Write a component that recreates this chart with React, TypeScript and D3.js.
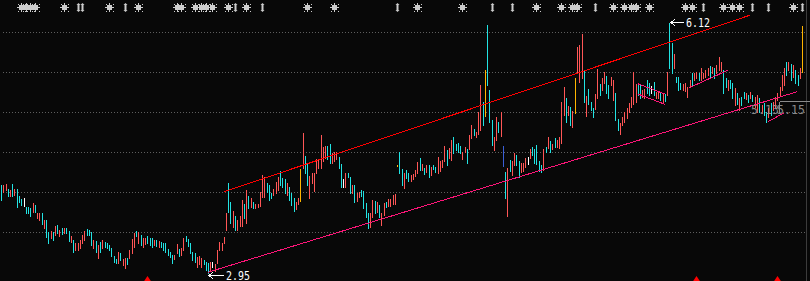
import React from 'react';
import * as d3 from 'd3';

// ---- data (prices) ----
const highs: number[] = [
  4.07,4.07,4.08,4.02,4.00,4.08,4.02,4.02,3.93,3.89,
  3.90,3.79,3.79,3.77,3.84,3.81,3.71,3.71,3.71,3.62,
  3.62,3.47,3.48,3.47,3.55,3.56,3.50,3.52,3.52,3.52,
  3.48,3.42,3.37,3.33,3.33,3.37,3.43,3.48,3.51,3.50,
  3.47,3.37,3.36,3.31,3.34,3.37,3.34,3.33,3.31,3.27,
  3.17,3.13,3.22,3.20,3.13,3.14,3.14,3.24,3.38,3.46,
  3.48,3.47,3.43,3.39,3.39,3.42,3.39,3.39,3.37,3.37,
  3.36,3.34,3.33,3.33,3.26,3.22,3.18,3.18,3.32,3.26,
  3.27,3.39,3.42,3.38,3.33,3.22,3.20,3.15,3.17,3.14,
  3.12,3.09,3.08,3.09,3.09,3.06,3.24,3.34,3.33,3.41,
  3.71,4.09,3.85,3.74,3.67,3.62,3.67,3.88,3.83,4.00,
  3.93,3.90,3.85,3.83,3.83,3.98,4.19,4.17,4.09,4.07,
  3.96,4.02,4.10,4.17,4.24,4.16,4.14,4.09,4.04,3.96,
  3.90,3.85,3.90,4.27,4.73,4.43,4.33,4.18,4.22,4.22,
  4.40,4.38,4.70,4.55,4.56,4.56,4.59,4.47,4.49,4.49,
  4.42,4.33,4.14,4.22,4.22,4.17,4.07,4.07,3.96,3.98,
  4.00,3.99,3.84,3.71,3.71,3.88,3.86,3.85,3.81,3.71,
  3.84,3.85,3.89,3.89,3.94,3.95,4.32,4.49,4.27,4.22,
  4.26,4.22,4.19,4.21,4.26,4.36,4.41,4.33,4.28,4.32,
  4.32,4.29,4.32,4.29,4.42,4.37,4.38,4.56,4.51,4.54,
  4.64,4.68,4.59,4.60,4.56,4.49,4.55,4.52,4.70,4.83,
  4.78,4.74,4.99,5.33,5.12,5.52,6.10,5.27,4.89,4.68,
  4.93,4.87,4.99,4.56,4.23,4.28,4.38,4.37,4.47,4.45,
  4.37,4.35,4.35,4.41,4.42,4.52,4.55,4.52,4.57,4.37,
  4.32,4.52,4.55,4.68,4.62,4.59,4.66,4.64,4.68,5.12,
  5.31,5.17,5.07,5.06,5.00,5.42,5.82,5.84,5.98,5.51,
  5.20,5.28,5.12,5.04,5.22,5.54,5.35,5.42,5.50,5.45,
  5.33,5.44,5.40,5.23,4.90,4.85,4.93,4.99,5.04,5.11,
  5.18,5.50,5.35,5.35,5.33,5.27,5.28,5.40,5.36,5.32,
  5.37,5.25,5.25,5.23,5.23,5.22,5.50,6.12,5.87,5.73,
  5.44,5.44,5.36,5.35,5.36,5.31,5.40,5.49,5.49,5.50,
  5.49,5.55,5.49,5.52,5.55,5.58,5.56,5.55,5.59,5.69,
  5.63,5.52,5.42,5.40,5.40,5.36,5.30,5.23,5.17,5.18,
  5.25,5.23,5.21,5.25,5.21,5.18,5.21,5.17,5.08,5.11,
  4.99,5.04,5.11,5.12,5.18,5.23,5.31,5.46,5.55,5.63,
  5.63,5.60,5.59,5.52,5.46,5.55,6.08,
];
const lows: number[] = [
  3.88,3.98,4.00,3.93,3.93,3.93,3.94,3.79,3.85,3.81,
  3.80,3.71,3.71,3.67,3.72,3.72,3.65,3.62,3.57,3.52,
  3.41,3.33,3.39,3.37,3.43,3.46,3.42,3.45,3.46,3.46,
  3.36,3.34,3.22,3.24,3.24,3.27,3.33,3.37,3.43,3.43,
  3.31,3.27,3.22,3.14,3.22,3.27,3.28,3.27,3.24,3.17,
  3.09,3.08,3.08,3.12,3.05,3.01,3.06,3.14,3.20,3.28,
  3.42,3.33,3.31,3.28,3.32,3.33,3.31,3.28,3.31,3.29,
  3.28,3.28,3.24,3.22,3.18,3.15,3.08,3.13,3.20,3.17,
  3.18,3.24,3.36,3.29,3.20,3.12,3.09,3.03,3.06,3.03,
  3.06,2.99,2.95,2.99,3.03,2.98,3.08,3.24,3.24,3.33,
  3.50,3.72,3.58,3.53,3.50,3.50,3.55,3.55,3.65,3.58,
  3.77,3.79,3.77,3.77,3.79,3.80,3.91,3.91,3.98,3.88,
  3.90,3.94,3.96,4.00,4.07,4.04,3.96,3.94,3.88,3.81,
  3.74,3.76,3.83,3.86,4.28,4.22,4.07,3.90,4.09,3.99,
  4.22,4.28,4.28,4.37,4.41,4.40,4.35,4.35,4.37,4.40,
  4.28,4.04,4.04,4.04,4.17,3.96,3.96,3.85,3.86,3.91,
  3.93,3.77,3.66,3.52,3.53,3.66,3.71,3.72,3.66,3.56,
  3.69,3.79,3.80,3.80,3.83,3.83,4.31,4.22,4.07,4.03,
  4.16,4.12,4.12,4.14,4.18,4.22,4.26,4.26,4.21,4.23,
  4.17,4.19,4.27,4.23,4.22,4.24,4.29,4.37,4.32,4.41,
  4.38,4.47,4.51,4.49,4.47,4.40,4.49,4.35,4.52,4.66,
  4.70,4.68,4.71,4.76,4.83,4.94,5.33,4.87,4.57,4.51,
  4.64,4.74,4.69,4.31,3.90,3.67,4.24,4.19,4.32,4.32,
  4.17,4.23,4.24,4.29,4.33,4.41,4.45,4.35,4.33,4.24,
  4.23,4.26,4.49,4.54,4.49,4.52,4.55,4.55,4.54,4.60,
  4.95,4.87,4.95,4.83,4.80,4.98,5.50,5.37,5.42,5.12,
  4.94,5.09,5.02,4.93,5.03,5.17,5.21,5.27,5.36,5.23,
  5.17,5.33,5.14,4.89,4.76,4.71,4.83,4.87,4.92,4.99,
  5.06,5.09,5.12,5.21,5.17,5.18,5.17,5.23,5.21,5.23,
  5.21,5.17,5.17,5.14,5.12,5.13,5.21,5.55,5.49,5.55,
  5.37,5.27,5.28,5.27,5.26,5.18,5.31,5.33,5.40,5.42,
  5.40,5.40,5.42,5.44,5.46,5.44,5.49,5.42,5.49,5.52,
  5.51,5.23,5.31,5.27,5.30,5.17,5.08,5.09,5.02,5.08,
  5.17,5.16,5.12,5.17,5.13,5.06,4.99,4.99,4.98,4.95,
  4.87,4.93,4.95,5.02,5.04,5.14,5.21,5.27,5.33,5.46,
  5.52,5.40,5.44,5.36,5.33,5.42,5.50,
];
// u = up, d = down, f = flat, l = limit move, x = ex-right day
const moveGroups: string[] = [
  'duudududdd', 'fddduduudu', 'ddudududud', 'duduuuuudd', 'dudududddd',
  'dduduuduuu', 'duduudddud', 'udddddduud', 'uuddddduuu', 'dddufuuuuu',
  'udduduuudu', 'duduuuuudd', 'duuudddudd', 'duuludduuu', 'uuuuudduuu',
  'ddfudduduu', 'dddduududu', 'uduuuulddu', 'dduuuududu', 'dudduuuudu',
  'udddduuduu', 'duuudldddu', 'uduxduduud', 'duuufudddd', 'dudududuuu',
  'ududuluuud', 'uddduuduud', 'duudduuuuu', 'uuudduuddf', 'duudududdu',
  'ddduuuuduu', 'duuuududuu', 'udduddudud', 'dududuudud', 'duduuuuuud',
  'ududdul',
];
const moves = moveGroups.join('').split('');

const gridLevels = [6.01, 5.50, 4.99, 4.48, 3.98, 3.47];
const channelUpper: [number, number][] = [[99, 3.98], [333, 6.22]];
const channelLower: [number, number][] = [[92, 2.96], [354, 5.25]];
const minorLines: [number, number][][] = [
  [[283, 5.35], [295, 5.22]],
  [[283, 5.22], [295, 5.09]],
  [[306, 5.30], [323, 5.52]],
  [[341, 4.87], [348, 4.98]],
];
const sunSignals = [9, 11, 13, 15, 28, 48, 61, 78, 80, 86, 89, 91, 94, 101, 109, 136, 148, 185, 205, 238, 249, 254, 256, 272, 277, 280, 282, 288, 304, 307, 321, 325, 328, 352];
const arrowSignals = [34, 36, 55, 104, 116, 176, 218, 227, 264, 312, 334, 341, 356];
const buySignals = [65, 309, 345];
const highMark = { index: 297, label: '6.12' };
const lowMark = { index: 92, label: '2.95' };
const priceTags = ['5.13', '5.15'];
const tagLevel = 5.13;

const COLORS: Record<string, string> = {
  u: '#ff5656', d: '#22e3e3', f: '#ffffff', l: '#ffb400', x: '#3a5fd8',
};

export default function App() {
  const W = 810, H = 281;
  const N = highs.length;
  const x = d3.scaleLinear().domain([0, N - 1]).range([1, 802]);
  const y = d3.scaleLinear().domain([2.95, 6.12]).range([273, 23]);
  const px = (i: number) => Math.round(x(i));
  const line = d3.line<[number, number]>().x(d => x(d[0])).y(d => y(d[1]));

  const sun = (cx: number, cy: number, k: number) => (
    <g key={'s' + k} fill="#cccccc" stroke="#cccccc" shapeRendering="crispEdges">
      <rect x={cx - 2.5} y={cy - 2.5} width={5} height={5} stroke="none" />
      <line x1={cx - 4.5} x2={cx + 4.5} y1={cy} y2={cy} strokeWidth={1} />
      <line x1={cx} x2={cx} y1={cy - 4.5} y2={cy + 4.5} strokeWidth={1} />
      <rect x={cx - 4} y={cy - 4} width={1} height={1} stroke="none" />
      <rect x={cx + 3} y={cy - 4} width={1} height={1} stroke="none" />
      <rect x={cx - 4} y={cy + 3} width={1} height={1} stroke="none" />
      <rect x={cx + 3} y={cy + 3} width={1} height={1} stroke="none" />
    </g>
  );
  const arrow = (cx: number, cy: number, k: number) => (
    <polygon key={'a' + k} fill="#cccccc"
      points={[
        [cx, cy - 4.5], [cx + 2, cy - 2.5], [cx + 1, cy - 2.5], [cx + 1, cy + 2.5], [cx + 2, cy + 2.5],
        [cx, cy + 4.5], [cx - 2, cy + 2.5], [cx - 1, cy + 2.5], [cx - 1, cy - 2.5], [cx - 2, cy - 2.5],
      ].map(p => p.join(',')).join(' ')} />
  );

  const hx = px(highMark.index) + 2, hy = Math.round(y(highs[highMark.index])) - 1;
  const lx = px(lowMark.index) + 1, ly = Math.round(y(lows[lowMark.index])) + 2;
  const tagY = Math.round(y(tagLevel)) + 0.5;

  return (
    <svg width={W} height={H} style={{ position: 'absolute', left: 0, top: 0, display: 'block', background: '#080808' }}>
      <rect width={W} height={H} fill="#080808" />
      {gridLevels.map((g, k) => (
        <line key={k} x1={3} x2={806} y1={Math.round(y(g)) + 0.5} y2={Math.round(y(g)) + 0.5}
          stroke="#5e5e5e" strokeDasharray="1 2" shapeRendering="crispEdges" />
      ))}
      <line x1={806.5} x2={806.5} y1={0} y2={H} stroke="#3c3c3c" />
      {highs.map((h, i) => {
        const top = Math.round(y(h));
        const bot = Math.round(y(lows[i]));
        return <rect key={i} x={px(i)} y={top} width={1} height={Math.max(1, bot - top + 1)}
          fill={COLORS[moves[i]] || COLORS.u} shapeRendering="crispEdges" />;
      })}
      <path d={line(channelUpper) || ''} stroke="#ff0000" fill="none" strokeWidth={1} shapeRendering="crispEdges" />
      <path d={line(channelLower) || ''} stroke="#ff1478" fill="none" strokeWidth={1} shapeRendering="crispEdges" />
      {minorLines.map((m, k) => (
        <path key={k} d={line(m) || ''} stroke="#ff1478" fill="none" strokeWidth={1} shapeRendering="crispEdges" />
      ))}
      {sunSignals.map((i, k) => sun(px(i) + 0.5, 7.5, k))}
      {arrowSignals.map((i, k) => arrow(px(i) + 0.5, 7.5, k))}
      {buySignals.map((i, k) => (
        <polygon key={'b' + k} fill="#ff0000"
          points={`${px(i) + 0.5},276 ${px(i) - 3.5},282 ${px(i) + 4.5},282`} />
      ))}
      <g stroke="#ffffff" fill="none" strokeWidth={1} shapeRendering="crispEdges">
        <path d={`M${hx},${hy + 0.5}H${hx + 13}M${hx + 4},${hy - 2.5}L${hx},${hy + 0.5}L${hx + 4},${hy + 3.5}`} />
        <path d={`M${lx},${ly + 0.5}H${lx + 15}M${lx + 4},${ly - 2.5}L${lx},${ly + 0.5}L${lx + 4},${ly + 3.5}`} />
      </g>
      <g fill="#ffffff" fontFamily="'DejaVu Sans Mono', monospace" fontSize={12}>
        <text x={hx + 15} y={hy + 5} textLength={24} lengthAdjust="spacingAndGlyphs">{highMark.label}</text>
        <text x={lx + 17} y={ly + 4.5} textLength={24} lengthAdjust="spacingAndGlyphs">{lowMark.label}</text>
      </g>
      <g stroke="#8a8a8a" fill="none" shapeRendering="crispEdges">
        <path d={`M779.5,${tagY}H810M779.5,${tagY}V${tagY + 12}`} />
      </g>
      <g fill="#8a8a8a" fontFamily="'DejaVu Sans Mono', monospace" fontSize={12.5}>
        <text x={751} y={tagY + 12} textLength={28} lengthAdjust="spacingAndGlyphs">{priceTags[0]}</text>
        <text x={777} y={tagY + 12} textLength={28} lengthAdjust="spacingAndGlyphs">{priceTags[1]}</text>
      </g>
    </svg>
  );
}
